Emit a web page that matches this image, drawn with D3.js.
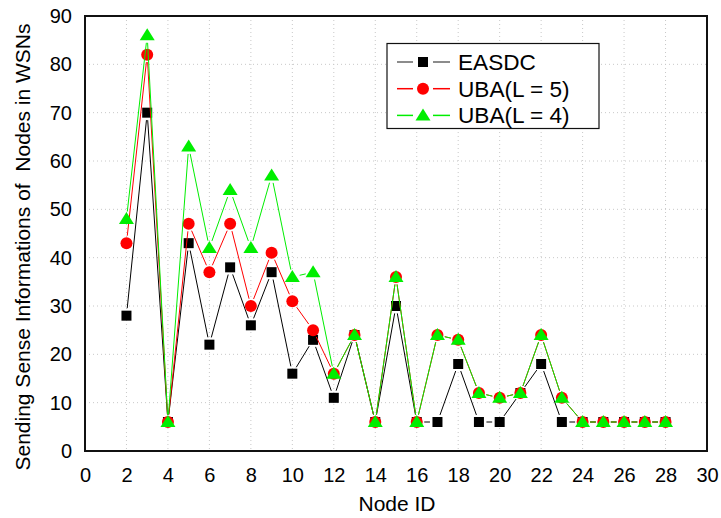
<!DOCTYPE html>
<html>
<head>
<meta charset="utf-8">
<script src="https://cdn.jsdelivr.net/npm/d3@7"></script>
<style>
    body { margin: 0; background: #fff; }
    svg { display: block; font-family: "Liberation Sans", Arial, sans-serif; }
</style>
</head>
<body>
<svg id="chart" width="721" height="518"></svg>
<script>
// node ids on the x axis
const nodeIds = [2, 3, 4, 5, 6, 7, 8, 9, 10, 11, 12, 13, 14, 15, 16, 17, 18, 19, 20, 21, 22, 23, 24, 25, 26, 27, 28]

// sending sense informations per node
const easdc = [28, 70, 6, 43, 22, 38, 26, 37, 16, 23, 11, 24, 6, 30, 6, 6, 18, 6, 6, 12, 18, 6, 6, 6, 6, 6, 6]
const uba5  = [43, 82, 6, 47, 37, 47, 30, 41, 31, 25, 16, 24, 6, 36, 6, 24, 23, 12, 11, 12, 24, 11, 6, 6, 6, 6, 6]
const uba4  = [48, 86, 6, 63, 42, 54, 42, 57, 36, 37, 16, 24, 6, 36, 6, 24, 23, 12, 11, 12, 24, 11, 6, 6, 6, 6, 6]

const xTicks = [0, 2, 4, 6, 8, 10, 12, 14, 16, 18, 20, 22, 24, 26, 28, 30]
const yTicks = [0, 10, 20, 30, 40, 50, 60, 70, 80, 90]

const seriesNames = ['EASDC', 'UBA(L = 5)', 'UBA(L = 4)']

const svg = d3.select('#chart')

const plotLeft = 85, plotRight = 707, plotTop = 16, plotBottom = 451

const x = d3.scaleLinear().domain([0, 30]).range([plotLeft, plotRight])
const y = d3.scaleLinear().domain([0, 90]).range([plotBottom, plotTop])

// dotted grid
const grid = svg.append('g')
grid.selectAll('.gx')
    .data(xTicks.filter(t => t > 0 && t < 30))
    .enter().append('line')
        .attr('x1', d => x(d)).attr('x2', d => x(d))
        .attr('y1', plotTop).attr('y2', plotBottom)
grid.selectAll('.gy')
    .data(yTicks.filter(t => t > 0 && t < 90))
    .enter().append('line')
        .attr('x1', plotLeft).attr('x2', plotRight)
        .attr('y1', d => y(d)).attr('y2', d => y(d))
grid.selectAll('line')
    .attr('stroke', '#c8c8c8')
    .attr('stroke-width', 1)
    .attr('stroke-dasharray', '1,3')

// axes (labels only, frame drawn separately)
const xAxis = d3.axisBottom(x).tickValues(xTicks).tickSize(0).tickPadding(17)
const yAxis = d3.axisLeft(y).tickValues(yTicks).tickSize(0).tickPadding(13)

const xAxisGroup = svg.append('g').attr('transform', `translate(0,${plotBottom})`).call(xAxis)
const yAxisGroup = svg.append('g').attr('transform', `translate(${plotLeft},0)`).call(yAxis)

;[xAxisGroup, yAxisGroup].forEach(g => {
    g.select('.domain').remove()
    g.selectAll('text')
        .attr('fill', '#000')
        .style('font-size', '20px')
        .style('font-family', '"Liberation Sans", Arial, sans-serif')
})

// plot frame
svg.append('rect')
    .attr('x', plotLeft).attr('y', plotTop)
    .attr('width', plotRight - plotLeft).attr('height', plotBottom - plotTop)
    .attr('fill', 'none')
    .attr('stroke', '#111')
    .attr('stroke-width', 2)

// axis titles
svg.append('text')
    .attr('x', 397).attr('y', 511)
    .attr('text-anchor', 'middle')
    .style('font-size', '21px')
    .text('Node ID')

svg.append('text')
    .attr('transform', 'translate(30,247) rotate(-90)')
    .attr('text-anchor', 'middle')
    .style('font-size', '21px')
    .style('white-space', 'pre')
    .attr('xml:space', 'preserve')
    .text('Sending Sense Informations of  Nodes in WSNs')

const markers = {
    square: g => g.append('rect').attr('x', -5).attr('y', -5).attr('width', 10).attr('height', 10),
    circle: g => g.append('circle').attr('r', 6),
    triangle: g => g.append('path').attr('d', 'M0,-7L7.5,5L-7.5,5Z')
}

const series = [
    {name: seriesNames[0], values: easdc, color: '#000', legendLine: '#666', marker: 'square'},
    {name: seriesNames[1], values: uba5, color: '#ff0000', legendLine: '#ff0000', marker: 'circle'},
    {name: seriesNames[2], values: uba4, color: '#00ee00', legendLine: '#00ee00', marker: 'triangle'}
]

// lines with a small gap around every marker
const gap = 7.5
series.forEach(s => {
    const pts = nodeIds.map((id, i) => [x(id), y(s.values[i])])
    const segs = d3.pairs(pts).map(([a, b]) => {
        const dx = b[0] - a[0], dy = b[1] - a[1]
        const len = Math.sqrt(dx * dx + dy * dy)
        const ux = dx / len, uy = dy / len
        return [a[0] + ux * gap, a[1] + uy * gap, b[0] - ux * gap, b[1] - uy * gap]
    })
    const g = svg.append('g')
    g.selectAll('line')
        .data(segs)
        .enter().append('line')
            .attr('x1', d => d[0]).attr('y1', d => d[1])
            .attr('x2', d => d[2]).attr('y2', d => d[3])
            .attr('stroke', s.color)
            .attr('stroke-width', 1)
    pts.forEach(p => {
        const m = g.append('g').attr('transform', `translate(${p[0]},${p[1]})`)
        markers[s.marker](m).attr('fill', s.color)
    })
})

// legend
const legend = svg.append('g')
legend.append('rect')
    .attr('x', 387).attr('y', 43.5)
    .attr('width', 212).attr('height', 85)
    .attr('fill', '#fff')
    .attr('stroke', '#111')
    .attr('stroke-width', 1.2)

series.forEach((s, i) => {
    const cy = 62 + i * 26.7
    const row = legend.append('g').attr('transform', `translate(0,${cy})`)
    row.append('line').attr('x1', 397).attr('x2', 413).attr('y1', 0).attr('y2', 0)
        .attr('stroke', s.legendLine).attr('stroke-width', 1.5)
    row.append('line').attr('x1', 433).attr('x2', 450).attr('y1', 0).attr('y2', 0)
        .attr('stroke', s.legendLine).attr('stroke-width', 1.5)
    const m = row.append('g').attr('transform', 'translate(423,0)')
    markers[s.marker](m).attr('fill', s.color)
    row.append('text')
        .attr('x', 458).attr('y', 8)
        .style('font-size', '22.6px')
        .text(s.name)
})
</script>
</body>
</html>
